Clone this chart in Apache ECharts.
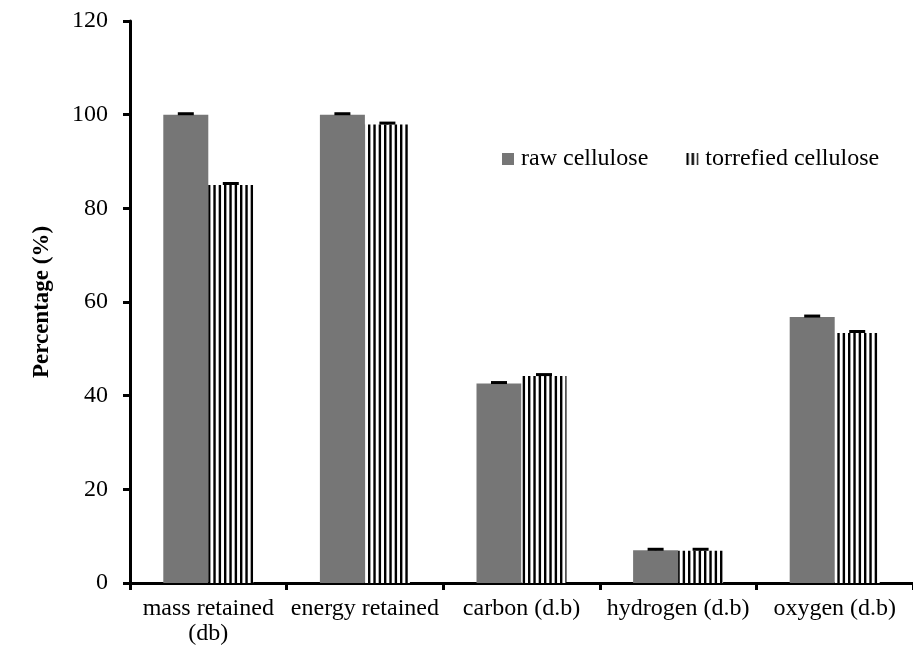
<!DOCTYPE html>
<html>
<head>
<meta charset="utf-8">
<script src="https://cdn.jsdelivr.net/npm/echarts@6/dist/echarts.min.js"></script>
<style>html,body{margin:0;padding:0;background:#fff;}#c{width:913px;height:652px;}</style>
</head>
<body>
<div id="c"></div>
<script>
const categories = ['mass retained\n(db)', 'energy retained', 'carbon (d.b)', 'hydrogen (d.b)', 'oxygen (d.b)'];
const seriesNames = ['raw cellulose', 'torrefied cellulose'];
const rawValues = [100, 100, 42.6, 7.0, 56.8];
const torrValues = [85.0, 97.9, 44.2, 6.9, 53.4];
const rawErrors = [0.2, 0.2, 0.2, 0.2, 0.2];
const torrErrors = [0.3, 0.3, 0.3, 0.3, 0.3];
const yTicks = [0, 20, 40, 60, 80, 100, 120];

const FONT = '"Liberation Serif", "Times New Roman", serif';
const BAR_W = 45;

// stripe pattern
const pc = document.createElement('canvas');
pc.width = 16; pc.height = 8;
const pctx = pc.getContext('2d');
pctx.fillStyle = '#fff'; pctx.fillRect(0, 0, 16, 8);
pctx.fillStyle = '#000';
[0, 5.333, 10.667].forEach(x => pctx.fillRect(x, 0, 2.4, 8));
const stripe = { image: pc, repeat: 'repeat' };

function errSeries(values, errors, side) {
  return {
    type: 'custom',
    z: 10,
    silent: true,
    data: values.map((v, i) => [i, v, errors[i]]),
    renderItem: function (params, api) {
      const i = api.value(0), v = api.value(1), e = api.value(2);
      const base = api.coord([i, v]);
      const top = api.coord([i, v + e]);
      const x = base[0] + side * BAR_W / 2;
      return {
        type: 'group',
        children: [
          { type: 'line', shape: { x1: x, y1: base[1], x2: x, y2: top[1] }, style: { stroke: '#000', lineWidth: 2 } },
          { type: 'line', shape: { x1: x - 8, y1: top[1], x2: x + 8, y2: top[1] }, style: { stroke: '#000', lineWidth: 3 } }
        ]
      };
    }
  };
}

const chart = echarts.init(document.getElementById('c'), null, { renderer: 'canvas' });
chart.setOption({
  animation: false,
  backgroundColor: '#fff',
  textStyle: { fontFamily: FONT },
  grid: { left: 130, top: 21, width: 793, height: 562 },
  legend: {
    data: seriesNames,
    left: 502, top: 147, padding: 0,
    icon: 'rect', itemWidth: 12, itemHeight: 12, itemGap: 38,
    textStyle: { fontFamily: FONT, fontSize: 24, color: '#000', padding: [0, 0, 0, 2] }
  },
  xAxis: {
    type: 'category',
    data: categories,
    axisLine: { lineStyle: { color: '#000', width: 3 } },
    axisTick: { show: true, length: 7, lineStyle: { color: '#000', width: 3 } },
    axisLabel: { color: '#000', fontFamily: FONT, fontSize: 24, lineHeight: 25, margin: 13, interval: 0 }
  },
  yAxis: {
    type: 'value',
    min: 0, max: 120, interval: 20,
    name: 'Percentage (%)',
    nameLocation: 'middle',
    nameGap: 76,
    nameTextStyle: { color: '#000', fontFamily: FONT, fontSize: 23, fontWeight: 'bold' },
    axisLine: { show: true, lineStyle: { color: '#000', width: 3 } },
    axisTick: { show: true, length: 7, lineStyle: { color: '#000', width: 3 } },
    splitLine: { show: false },
    axisLabel: { color: '#000', fontFamily: FONT, fontSize: 24, margin: 22,
      formatter: v => yTicks.includes(v) ? String(v) : '' }
  },
  series: [
    { name: seriesNames[0], type: 'bar', data: rawValues, barWidth: BAR_W, barGap: '0%',
      itemStyle: { color: '#767676' } },
    { name: seriesNames[1], type: 'bar', data: torrValues, barWidth: BAR_W, barGap: '0%',
      itemStyle: { color: stripe } },
    errSeries(rawValues, rawErrors, -1),
    errSeries(torrValues, torrErrors, 1)
  ]
});
</script>
</body>
</html>
